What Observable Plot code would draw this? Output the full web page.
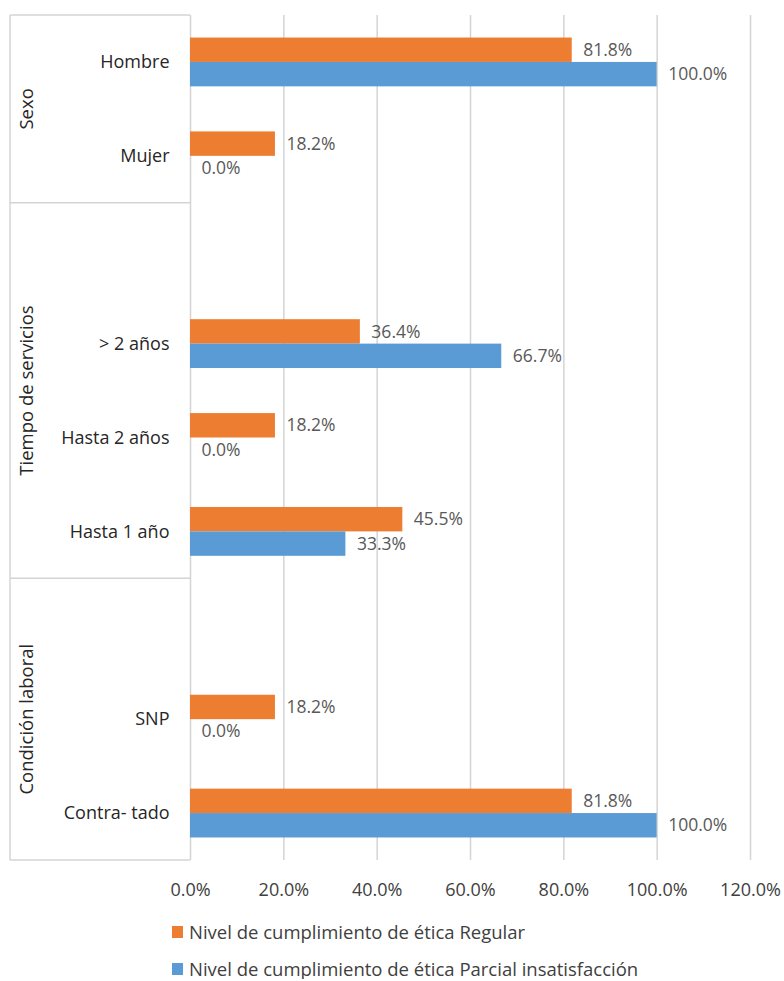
<!DOCTYPE html>
<html>
<head>
<meta charset="utf-8">
<script src="https://cdn.jsdelivr.net/npm/d3@7"></script>
<script src="https://cdn.jsdelivr.net/npm/@observablehq/plot@0.6"></script>
<style>
  html, body { margin: 0; padding: 0; background: #fff; }
  #chart { width: 784px; height: 905px; }
  #chart svg { display: block; }
  .legend { padding-left: 172px; font-family: "Open Sans", sans-serif; font-size: 18.5px; line-height: 20px; color: #404040; }
  .legend .item { display: flex; align-items: center; height: 20px; margin-top: 17px; white-space: nowrap; }
  .legend .sw { width: 11px; height: 12px; margin-right: 6px; flex: none; }
</style>
</head>
<body>
<div id="chart"></div>
<script>
// Row slots of the category axis, top to bottom ("_gap*" are empty spacer rows)
const slots = ["Hombre", "Mujer", "_gap1", "> 2 años", "Hasta 2 años", "Hasta 1 año", "_gap2", "SNP", "Contra- tado"];

// Outer grouping of the rows
const groupNames = ["Sexo", "Tiempo de servicios", "Condición laboral"];
const groupRows = [
  ["Hombre", "Mujer"],
  ["_gap1", "> 2 años", "Hasta 2 años", "Hasta 1 año"],
  ["_gap2", "SNP", "Contra- tado"]
];

// Series
const seriesNames = [
  "Nivel de cumplimiento de ética Regular",
  "Nivel de cumplimiento de ética Parcial insatisfacción"
];
const seriesColors = ["#ED7D31", "#5B9BD5"];

// Percentages per category
const categories = ["Hombre", "Mujer", "> 2 años", "Hasta 2 años", "Hasta 1 año", "SNP", "Contra- tado"];
const regular = [81.8, 18.2, 36.4, 18.2, 45.5, 18.2, 81.8];
const parcial = [100.0, 0.0, 66.7, 0.0, 33.3, 0.0, 100.0];

// X axis ticks
const xTicks = [0, 20, 40, 60, 80, 100, 120];

const rowsRegular = categories.map((c, i) => ({slot: c, value: regular[i]}));
const rowsParcial = categories.map((c, i) => ({slot: c, value: parcial[i]}));

const width = 784, height = 905;
const marginTop = 15, marginBottom = 45, marginLeft = 190, marginRight = 34;
const band = (height - marginTop - marginBottom) / slots.length;
const barH = band * 0.26;
const half = band / 2;
const pct = d => d.toFixed(1) + "%";
const labelStyle = {textAnchor: "start", dx: 11, fill: "#595959", fontSize: 17.5};

const chart = Plot.plot({
  width, height, marginTop, marginBottom, marginLeft, marginRight,
  style: {fontFamily: "Open Sans, sans-serif", fontSize: "18px", background: "#fff"},
  x: {domain: [0, 120]},
  y: {domain: slots, padding: 0, round: false},
  marks: [
    Plot.gridX(xTicks, {stroke: "#d4d4d4", strokeOpacity: 1, strokeWidth: 1.5}),
    Plot.axisX(xTicks, {tickSize: 0, tickPadding: 23, tickFormat: pct, fill: "#404040", label: null, fontSize: 18}),
    Plot.axisY({tickSize: 0, tickPadding: 21, tickFormat: d => d.startsWith("_") ? "" : d, fill: "#262626", label: null, fontSize: 18}),
    Plot.barX(rowsRegular, {y: "slot", x: "value", fill: seriesColors[0], insetTop: half - barH, insetBottom: half}),
    Plot.barX(rowsParcial, {y: "slot", x: "value", fill: seriesColors[1], insetTop: half, insetBottom: half - barH}),
    Plot.text(rowsRegular, {y: "slot", x: "value", text: d => pct(d.value), dy: -barH / 2, ...labelStyle}),
    Plot.text(rowsParcial, {y: "slot", x: "value", text: d => pct(d.value), dy: barH / 2, ...labelStyle})
  ]
});

// Group brackets and rotated group labels on the left of the category axis
const ys = chart.scale("y");
const svg = d3.select(chart.tagName.toLowerCase() === "svg" ? chart : chart.querySelector("svg"));
const g = svg.append("g").attr("stroke", "#d4d4d4").attr("stroke-width", 1.5);
const xLeft = 10;
const bounds = groupRows.map(rows => [ys.apply(rows[0]), ys.apply(rows[rows.length - 1]) + ys.bandwidth]);
const edges = [bounds[0][0], ...bounds.map(b => b[1])];
edges.forEach(yv => g.append("line").attr("x1", xLeft).attr("x2", marginLeft).attr("y1", yv).attr("y2", yv));
g.append("line").attr("x1", xLeft).attr("x2", xLeft).attr("y1", edges[0]).attr("y2", edges[edges.length - 1]);
const t = svg.append("g").attr("fill", "#262626").attr("font-size", 18.5).attr("text-anchor", "middle");
groupNames.forEach((name, i) => {
  const cy = (bounds[i][0] + bounds[i][1]) / 2;
  t.append("text").attr("transform", `translate(32.5,${cy}) rotate(-90)`).text(name);
});

document.getElementById("chart").appendChild(chart);

// Legend below the chart
const legend = d3.select("body").append("div").attr("class", "legend");
seriesNames.forEach((name, i) => {
  const item = legend.append("div").attr("class", "item");
  item.append("span").attr("class", "sw").style("background", seriesColors[i]);
  item.append("span").text(name);
});
</script>
</body>
</html>
